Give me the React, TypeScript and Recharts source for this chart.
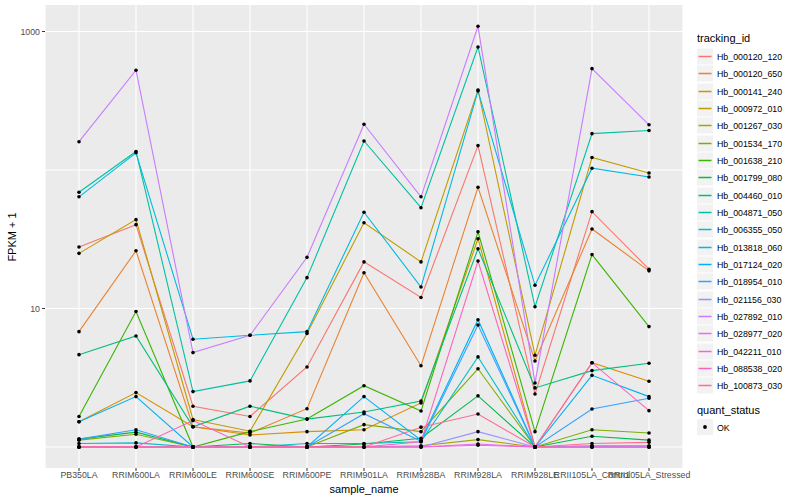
import { LineChart, Line, XAxis, YAxis, CartesianGrid } from "recharts";

const samples = [
  "PB350LA",
  "RRIM600LA",
  "RRIM600LE",
  "RRIM600SE",
  "RRIM600PE",
  "RRIM901LA",
  "RRIM928BA",
  "RRIM928LA",
  "RRIM928LE",
  "RRII105LA_Control",
  "RRII105LA_Stressed",
];

// FPKM + 1 per sample
const hb000120_120 = [27.8, 40.3, 1.97, 1.66, 3.78, 21.7, 12.0, 150, 2.41, 50, 19.2];
const hb000120_650 = [6.8, 26.1, 1.4, 1.26, 1.89, 18.1, 3.86, 75, 4.18, 37.5, 18.7];
const hb000141_240 = [1.52, 2.47, 1.4, 1.22, 1.29, 1.33, 2.08, 31.9, 1.0, 4.06, 2.98];
const hb000972_010 = [25.0, 43.8, 1.58, 1.3, 6.6, 41.6, 21.7, 378, 4.6, 123, 95];
const hb001267_030 = [1.0, 1.0, 1.0, 1.0, 1.0, 1.0, 1.02, 1.13, 1.0, 1.02, 1.02];
const hb001534_170 = [1.12, 1.235, 1.0, 1.0, 1.0, 1.45, 1.29, 3.67, 1.0, 1.33, 1.26];
const hb001638_210 = [1.66, 9.5, 1.0, 1.29, 1.59, 2.77, 1.82, 35.8, 1.29, 24.5, 7.4];
const hb001799_080 = [1.14, 1.28, 1.0, 1.06, 1.0, 1.05, 1.155, 2.34, 1.0, 1.195, 1.12];
const hb004460_010 = [4.64, 6.33, 1.4, 1.97, 1.59, 1.79, 2.15, 27.0, 2.67, 3.56, 4.02];
const hb004871_050 = [69, 136, 2.51, 3.0, 16.7, 162, 53.4, 773, 10.3, 183, 193];
const hb006355_050 = [1.06, 1.07, 1.0, 1.0, 1.06, 1.06, 1.09, 4.47, 1.0, 1.0, 1.0];
const hb013818_060 = [64, 133, 6.0, 6.4, 6.8, 49.5, 14.3, 372, 14.7, 103, 89];
const hb017124_020 = [1.52, 2.31, 1.0, 1.0, 1.0, 2.31, 1.12, 8.3, 1.0, 3.29, 2.31];
const hb018954_010 = [1.14, 1.33, 1.0, 1.0, 1.0, 1.74, 1.1, 7.6, 1.0, 1.88, 2.25];
const hb021156_030 = [1.0, 1.0, 1.0, 1.0, 1.0, 1.0, 1.0, 1.29, 1.0, 1.0, 1.0];
const hb027892_010 = [160, 525, 4.8, 6.4, 23.4, 214, 64, 1090, 2.9, 539, 212];
const hb028977_020 = [1.0, 1.0, 1.0, 1.0, 1.0, 1.0, 1.0, 1.05, 1.0, 1.0, 1.0];
const hb042211_010 = [1.0, 1.0, 1.0, 1.0, 1.0, 1.0, 1.0, 1.03, 1.0, 1.0, 1.0];
const hb088538_020 = [1.0, 1.0, 1.55, 1.0, 1.0, 1.0, 1.09, 22.0, 1.0, 4.06, 1.83];
const hb100873_030 = [1.0, 1.0, 1.0, 1.0, 1.0, 1.0, 1.39, 1.73, 1.0, 1.06, 1.08];

const series = [
  { id: "Hb_000120_120", color: "#F8766D", values: hb000120_120 },
  { id: "Hb_000120_650", color: "#EA8331", values: hb000120_650 },
  { id: "Hb_000141_240", color: "#D89000", values: hb000141_240 },
  { id: "Hb_000972_010", color: "#C09B00", values: hb000972_010 },
  { id: "Hb_001267_030", color: "#A3A500", values: hb001267_030 },
  { id: "Hb_001534_170", color: "#7CAE00", values: hb001534_170 },
  { id: "Hb_001638_210", color: "#39B600", values: hb001638_210 },
  { id: "Hb_001799_080", color: "#00BB4E", values: hb001799_080 },
  { id: "Hb_004460_010", color: "#00BF7D", values: hb004460_010 },
  { id: "Hb_004871_050", color: "#00C1A3", values: hb004871_050 },
  { id: "Hb_006355_050", color: "#00BFC4", values: hb006355_050 },
  { id: "Hb_013818_060", color: "#00BAE0", values: hb013818_060 },
  { id: "Hb_017124_020", color: "#00B0F6", values: hb017124_020 },
  { id: "Hb_018954_010", color: "#35A2FF", values: hb018954_010 },
  { id: "Hb_021156_030", color: "#9590FF", values: hb021156_030 },
  { id: "Hb_027892_010", color: "#C77CFF", values: hb027892_010 },
  { id: "Hb_028977_020", color: "#E76BF3", values: hb028977_020 },
  { id: "Hb_042211_010", color: "#FA62DB", values: hb042211_010 },
  { id: "Hb_088538_020", color: "#FF62BC", values: hb088538_020 },
  { id: "Hb_100873_030", color: "#FF6C91", values: hb100873_030 },
];

const yTicks = [10, 1000];
const yGrid = [1, 10, 100, 1000];

const font = '"Liberation Sans", Arial, Helvetica, sans-serif';

const data = samples.map((sample, i) => {
  const row: Record<string, string | number> = { sample };
  series.forEach((s) => {
    row[s.id] = s.values[i];
  });
  return row;
});

function GgLegend() {
  return (
    <div style={{ position: "absolute", left: 697, top: 0, fontFamily: font }}>
      <div style={{ position: "absolute", top: 32, fontSize: 11, lineHeight: "13px", whiteSpace: "nowrap" }}>
        tracking_id
      </div>
      {series.map((s, i) => (
        <div
          key={s.id}
          style={{ position: "absolute", top: Math.round(48 + i * 17.33), height: 17, whiteSpace: "nowrap" }}
        >
          <svg width={17} height={17} style={{ position: "absolute", left: 0, top: 0 }}>
            <rect x={0} y={0.5} width={16} height={16} fill="#F2F2F2" />
            <line x1={1.5} x2={14.5} y1={8.5} y2={8.5} stroke={s.color} strokeWidth={1.5} />
          </svg>
          <div style={{ position: "absolute", left: 20, top: 3.5, fontSize: 8.8, lineHeight: "10px", color: "#000" }}>
            {s.id}
          </div>
        </div>
      ))}
      <div style={{ position: "absolute", top: 404, fontSize: 11, lineHeight: "13px", whiteSpace: "nowrap" }}>
        quant_status
      </div>
      <div style={{ position: "absolute", top: 419, height: 17, whiteSpace: "nowrap" }}>
        <svg width={17} height={17} style={{ position: "absolute", left: 0, top: 0 }}>
          <rect x={0} y={0} width={16} height={16} fill="#F2F2F2" />
          <circle cx={8} cy={8} r={1.9} fill="#000" />
        </svg>
        <div style={{ position: "absolute", left: 20, top: 3.5, fontSize: 8.8, lineHeight: "10px" }}>OK</div>
      </div>
    </div>
  );
}

export default function App() {
  return (
    <div style={{ position: "absolute", left: 0, top: 0, width: 800, height: 500, background: "#fff", fontFamily: font }}>
      <LineChart
        width={800}
        height={500}
        data={data}
        margin={{ top: 5, right: 117, bottom: 0, left: 5 }}
      >
        <CartesianGrid
          fill="#EBEBEB"
          stroke="#FFFFFF"
          strokeWidth={1.1}
          horizontalValues={yGrid}
        />
        <XAxis
          dataKey="sample"
          interval={0}
          padding={{ left: 34, right: 34 }}
          axisLine={false}
          tickLine={{ stroke: "#333333" }}
          tickSize={3}
          tickMargin={1}
          height={32}
          tick={{ fontSize: 8.8, fill: "#4D4D4D", fontFamily: font }}
        />
        <YAxis
          scale="log"
          domain={[0.705, 1553]}
          allowDataOverflow
          ticks={yTicks}
          axisLine={false}
          tickLine={{ stroke: "#333333" }}
          tickSize={3}
          tickMargin={2}
          width={40}
          tick={{ fontSize: 8.8, fill: "#4D4D4D", fontFamily: font }}
        />
        {series.map((s) => (
          <Line
            key={s.id}
            type="linear"
            dataKey={s.id}
            stroke={s.color}
            strokeWidth={1.1}
            dot={false}
            activeDot={false}
            isAnimationActive={false}
          />
        ))}
        {series.map((s) => (
          <Line
            key={s.id + "-pt"}
            type="linear"
            dataKey={s.id}
            stroke="none"
            dot={{ r: 1.8, fill: "#000", stroke: "none" }}
            activeDot={false}
            legendType="none"
            isAnimationActive={false}
          />
        ))}
      </LineChart>
      <div
        style={{
          position: "absolute",
          left: 12,
          top: 236.5,
          transform: "translate(-50%, -50%) rotate(-90deg)",
          fontSize: 11,
          whiteSpace: "nowrap",
        }}
      >
        FPKM + 1
      </div>
      <div
        style={{
          position: "absolute",
          left: 364,
          top: 489,
          transform: "translate(-50%, -50%)",
          fontSize: 11,
          whiteSpace: "nowrap",
        }}
      >
        sample_name
      </div>
      <GgLegend />
    </div>
  );
}
